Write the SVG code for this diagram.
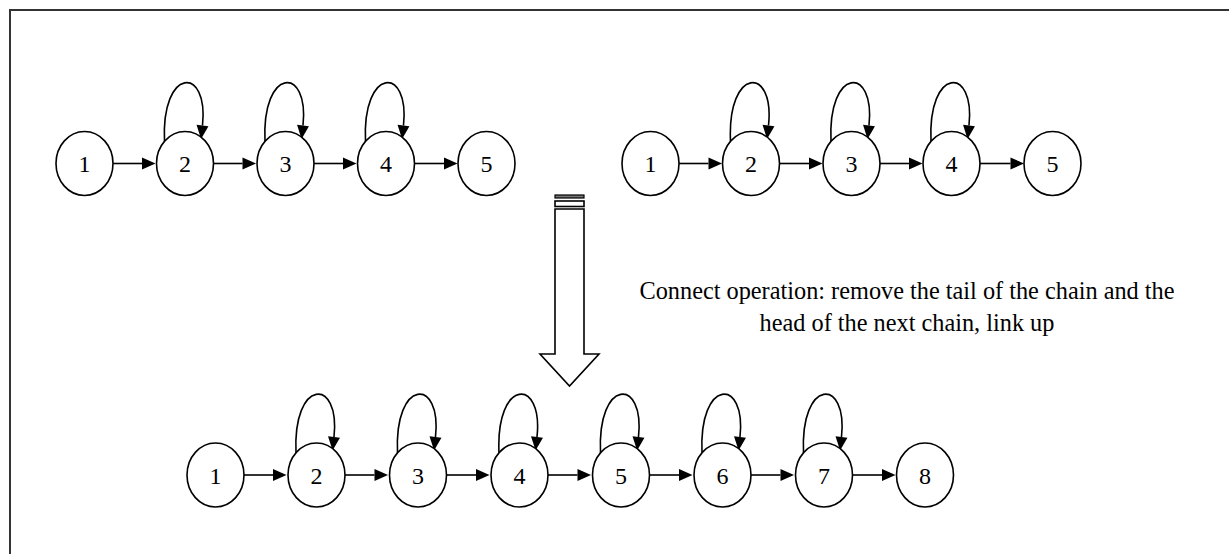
<svg xmlns="http://www.w3.org/2000/svg" width="1229" height="554" viewBox="0 0 1229 554">
  <style>
    .frame { fill: none; stroke: #333; stroke-width: 2; }
    .node ellipse { fill: #fff; stroke: #000; stroke-width: 1.6; }
    .node text { font-family: "Liberation Serif", "Times New Roman", serif; font-size: 24px; text-anchor: middle; fill: #000; }
    .edge { fill: none; stroke: #000; stroke-width: 1.6; marker-end: url(#head); }
    .big { fill: #fff; stroke: #000; stroke-width: 1.6; }
    .caption { font-family: "Liberation Serif", "Times New Roman", serif; font-size: 24.3px; text-anchor: middle; fill: #000; }
  </style>
  <defs>
    <marker id="head" markerUnits="userSpaceOnUse" markerWidth="14" markerHeight="12" refX="0" refY="6" orient="auto" overflow="visible">
      <path d="M0,0 L13.5,6 L0,12 Z" fill="#000"/>
    </marker>
  </defs>

  <rect class="frame" x="10" y="10" width="1300" height="600"/>

  <!-- connectors -->
  <g id="connectors">
    <!-- upper left chain -->
    <path class="edge" d="M113,163.5 H142"/>
    <path class="edge" d="M213.5,163.5 H242.5"/>
    <path class="edge" d="M314,163.5 H343"/>
    <path class="edge" d="M414.5,163.5 H444"/>
    <path class="edge" d="M164.5,141.5 C161,66.5 209,65.5 202.5,125.5"/>
    <path class="edge" d="M265,141.5 C261.5,66.5 309.5,65.5 303,125.5"/>
    <path class="edge" d="M365.5,141.5 C362,66.5 410,65.5 403.5,125.5"/>
    <!-- upper right chain -->
    <path class="edge" d="M679,163.5 H708.5"/>
    <path class="edge" d="M779.5,163.5 H809"/>
    <path class="edge" d="M880,163.5 H909"/>
    <path class="edge" d="M980,163.5 H1010.5"/>
    <path class="edge" d="M730.5,141.5 C727,66.5 775,65.5 768.5,125.5"/>
    <path class="edge" d="M831,141.5 C827.5,66.5 875.5,65.5 869,125.5"/>
    <path class="edge" d="M931,141.5 C927.5,66.5 975.5,65.5 969,125.5"/>
    <!-- joined chain -->
    <path class="edge" d="M244,475 H273"/>
    <path class="edge" d="M345,475 H374.5"/>
    <path class="edge" d="M446.5,475 H476"/>
    <path class="edge" d="M548,475 H577.5"/>
    <path class="edge" d="M649.5,475 H679"/>
    <path class="edge" d="M751,475 H780.5"/>
    <path class="edge" d="M852.5,475 H882"/>
    <path class="edge" d="M296,453 C292.5,378 340.5,377 334,437"/>
    <path class="edge" d="M397.5,453 C394,378 442,377 435.5,437"/>
    <path class="edge" d="M499,453 C495.5,378 543.5,377 537,437"/>
    <path class="edge" d="M600.5,453 C597,378 645,377 638.5,437"/>
    <path class="edge" d="M702,453 C698.5,378 746.5,377 740,437"/>
    <path class="edge" d="M803.5,453 C800,378 848,377 841.5,437"/>
  </g>

  <!-- upper left chain -->
  <g id="a1" class="node"><ellipse cx="84.5" cy="163.5" rx="28.5" ry="32"/><text x="84.5" y="172">1</text></g>
  <g id="a2" class="node"><ellipse cx="185" cy="163.5" rx="28.5" ry="32"/><text x="185" y="172">2</text></g>
  <g id="a3" class="node"><ellipse cx="285.5" cy="163.5" rx="28.5" ry="32"/><text x="285.5" y="172">3</text></g>
  <g id="a4" class="node"><ellipse cx="386" cy="163.5" rx="28.5" ry="32"/><text x="386" y="172">4</text></g>
  <g id="a5" class="node"><ellipse cx="486.5" cy="163.5" rx="28.5" ry="32"/><text x="486.5" y="172">5</text></g>

  <!-- upper right chain -->
  <g id="b1" class="node"><ellipse cx="650.5" cy="163.5" rx="28.5" ry="32"/><text x="650.5" y="172">1</text></g>
  <g id="b2" class="node"><ellipse cx="751" cy="163.5" rx="28.5" ry="32"/><text x="751" y="172">2</text></g>
  <g id="b3" class="node"><ellipse cx="851.5" cy="163.5" rx="28.5" ry="32"/><text x="851.5" y="172">3</text></g>
  <g id="b4" class="node"><ellipse cx="951.5" cy="163.5" rx="28.5" ry="32"/><text x="951.5" y="172">4</text></g>
  <g id="b5" class="node"><ellipse cx="1052.5" cy="163.5" rx="28.5" ry="32"/><text x="1052.5" y="172">5</text></g>

  <!-- block arrow with banded top -->
  <g id="join-arrow">
    <rect x="555" y="195" width="29" height="3" fill="#777" stroke="#000" stroke-width="1.2"/>
    <rect class="big" x="555" y="201" width="29" height="5.5" stroke-width="1.2"/>
    <path class="big" d="M555,209 H584 V354 H599 L569.5,386 L540,354 H555 Z"/>
  </g>

  <g id="caption">
    <text class="caption" x="907" y="299">Connect operation: remove the tail of the chain and the</text>
    <text class="caption" x="907" y="331">head of the next chain, link up</text>
  </g>

  <!-- joined chain -->
  <g id="c1" class="node"><ellipse cx="215.5" cy="475" rx="28.5" ry="32"/><text x="215.5" y="483.5">1</text></g>
  <g id="c2" class="node"><ellipse cx="316.5" cy="475" rx="28.5" ry="32"/><text x="316.5" y="483.5">2</text></g>
  <g id="c3" class="node"><ellipse cx="418" cy="475" rx="28.5" ry="32"/><text x="418" y="483.5">3</text></g>
  <g id="c4" class="node"><ellipse cx="519.5" cy="475" rx="28.5" ry="32"/><text x="519.5" y="483.5">4</text></g>
  <g id="c5" class="node"><ellipse cx="621" cy="475" rx="28.5" ry="32"/><text x="621" y="483.5">5</text></g>
  <g id="c6" class="node"><ellipse cx="722.5" cy="475" rx="28.5" ry="32"/><text x="722.5" y="483.5">6</text></g>
  <g id="c7" class="node"><ellipse cx="824" cy="475" rx="28.5" ry="32"/><text x="824" y="483.5">7</text></g>
  <g id="c8" class="node"><ellipse cx="925" cy="475" rx="28.5" ry="32"/><text x="925" y="483.5">8</text></g>
</svg>
